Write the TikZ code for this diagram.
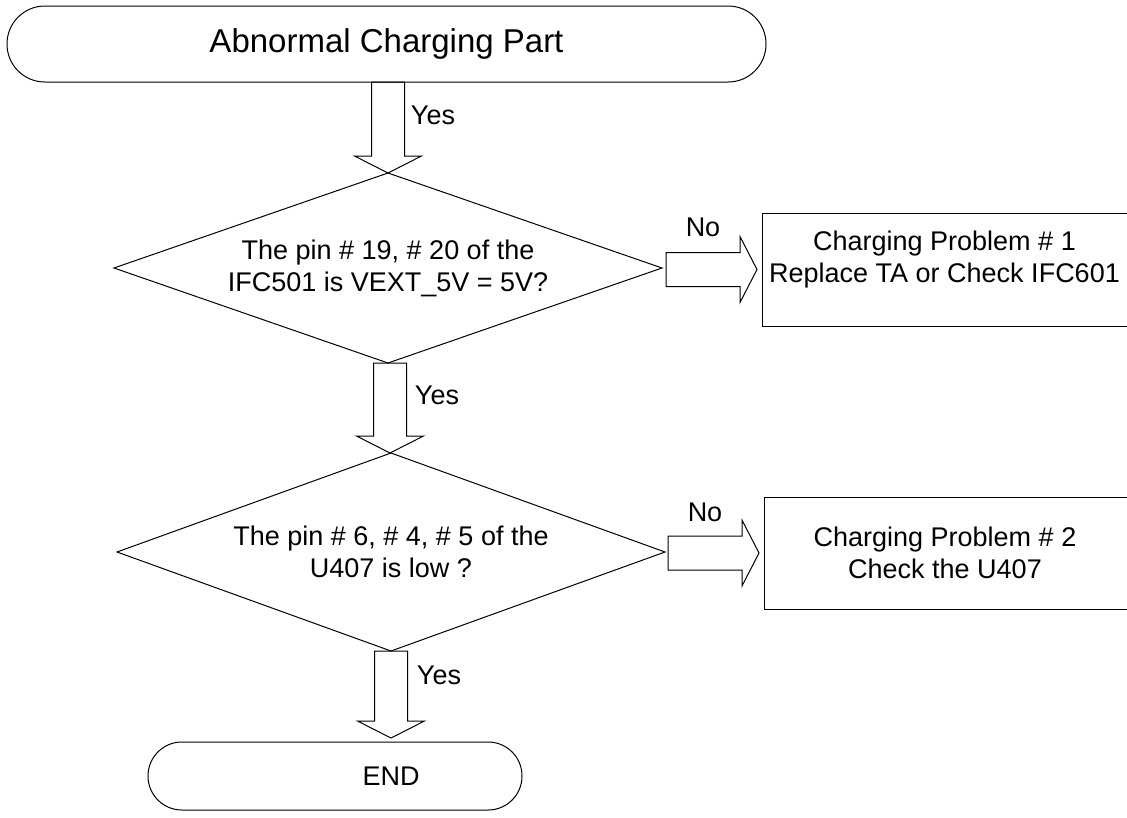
\documentclass[tikz,border=0pt]{standalone}
\usepackage{fontspec}
\setmainfont{Liberation Sans}
\usetikzlibrary{shapes.geometric,calc}
\newcommand{\blkdown}[3]{% #1 start node anchor, #2 tip coordinate, #3 name
  \path ($(#2)+(-16.5,0)$) coordinate (#3L) ($(#2)+(16.5,0)$) coordinate (#3R);
  \draw[ln] (#3L |- #1) -- ($(#2)+(-16.5,-17)$) -- ($(#2)+(-33.5,-17)$) -- (#2)
    -- ($(#2)+(33.5,-17)$) -- ($(#2)+(16.5,-17)$) -- (#3R |- #1) -- cycle;}
\newcommand{\blkright}[2]{% #1 start coordinate, #2 tip coordinate
  \draw[ln] ($(#1)+(0,-17)$) -- ($(#2)+(-17,-17)$) -- ($(#2)+(-17,-33)$) -- (#2)
    -- ($(#2)+(-17,33)$) -- ($(#2)+(-17,17)$) -- ($(#1)+(0,17)$) -- cycle;}
\begin{document}
\begin{tikzpicture}[x=1pt,y=-1pt,
  every node/.style={inner sep=0pt, outer sep=0pt, font=\fontsize{27}{32}\selectfont, text=black},
  ln/.style={line width=1pt, draw=black, line join=miter},
  decision/.style={ln, diamond, align=center, minimum width=548pt},
  procbox/.style={ln, rectangle, minimum width=370pt},
  label/.style={font=\fontsize{27}{32}\selectfont}]
\useasboundingbox (0,0) rectangle (1127,817);
\fill[white] (0,0) rectangle (1127,817);

% terminals
\node[ln, rectangle, rounded corners=37.9pt, minimum width=759pt, minimum height=76pt,
      font=\fontsize{33}{40}\selectfont] (start) at (386.5,44) {Abnormal Charging Part};

% decisions
\node[decision, shape aspect=2.88, minimum height=190pt] (d1) at (388,268)
  {The pin \# 19, \# 20 of the\\IFC501 is VEXT\_5V = 5V?};
\node[decision, shape aspect=2.77, minimum height=198pt] (d2) at (391,552)
  {The pin \# 6, \# 4, \# 5 of the\\U407 is low ?};

% process boxes
\node[procbox, minimum height=113pt] (b1) at (947,269.5) {};
\node[align=center] (b1t) at (944.5,259.5) {Charging Problem \# 1\\Replace TA or Check IFC601};
\node[procbox, minimum height=112pt] (b2) at (949,553) {};
\node[align=center] (b2t) at (945,552.5) {Charging Problem \# 2\\Check the U407};

% end
\node[ln, rectangle, rounded corners=33.9pt, minimum width=374pt, minimum height=68pt] (end) at (335,776) {};
\node (endt) at (391,776) {END};

% vertical block arrows
\coordinate (t1) at (d1.north);
\blkdown{start.south}{t1}{a1}
\coordinate (t2) at ($(d2.north)+(-1,0)$);
\blkdown{d1.south}{t2}{a2}
\coordinate (t3) at ($(d2.south |- end.north)+(0,-4)$);
\blkdown{d2.south}{t3}{a3}

% horizontal block arrows
\coordinate (h1) at ($(b1.west)+(-5,0)$);
\coordinate (s1) at ($(d1.east |- h1)+(4,0)$);
\blkright{s1}{h1}
\coordinate (h2) at ($(b2.west)+(-5,0)$);
\coordinate (s2) at ($(d2.east |- h2)+(3,0)$);
\blkright{s2}{h2}

% labels
\node[label] (y1) at (433,115) {Yes};
\node[label] (y2) at (437,395) {Yes};
\node[label] (y3) at (439,675) {Yes};
\node[label] (n1) at (703,227) {No};
\node[label] (n2) at (705,512) {No};
\end{tikzpicture}
\end{document}
